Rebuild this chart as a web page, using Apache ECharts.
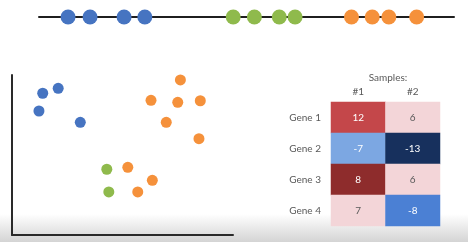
<!DOCTYPE html>
<html>
<head>
<meta charset="utf-8">
<script src="https://cdn.jsdelivr.net/npm/echarts@6/dist/echarts.min.js"></script>
<style>html,body{margin:0;padding:0;background:#fff}#c{width:468px;height:242px}</style>
</head>
<body>
<div id="c"></div>
<script>
// 1D line positions (0-100 scale)
var lineBlue = [7.0, 12.3, 20.5, 25.5];
var lineGreen = [46.8, 51.9, 57.9, 61.7];
var lineOrange = [75.3, 80.3, 84.3, 91.0];

// 2D scatter (x, y on 0-100 scale)
var scatBlue = [[13.9, 88.6], [20.9, 91.7], [12.2, 77.5], [30.9, 70.4]];
var scatOrange = [[76.2, 96.9], [62.9, 84.2], [75.0, 82.9], [85.2, 83.9], [69.8, 70.4], [84.6, 60.2], [52.4, 42.3], [63.5, 34.2], [56.9, 26.9]];
var scatGreen = [[42.9, 41.1], [43.8, 26.9]];

// Heatmap
var samples = ['#1', '#2'];
var genes = ['Gene 1', 'Gene 2', 'Gene 3', 'Gene 4'];
var sample1 = [12, -7, 8, 7];
var sample2 = [6, -13, 6, -8];

var BLUE = '#4674c1', GREEN = '#8fba4c', ORANGE = '#f5913b';
var FONT = 'Lato';

function oneD(arr) { return arr.map(function (v) { return [v, 0]; }); }

var heatData = [];
genes.forEach(function (g, i) {
  [sample1, sample2].forEach(function (arr, j) {
    var v = arr[i];
    var light = (v === 6 || v === 7);
    heatData.push({ value: [j, i, v], label: { color: light ? '#595959' : '#ffffff' } });
  });
});

var chart = echarts.init(document.getElementById('c'), null, { renderer: 'canvas' });
chart.setOption({
  backgroundColor: '#ffffff',
  animation: false,
  textStyle: { fontFamily: FONT },
  graphic: [{
    type: 'rect', z: -10, silent: true,
    shape: { x: 0, y: 214, width: 468, height: 28 },
    style: {
      fill: { type: 'linear', x: 0, y: 0, x2: 0, y2: 1, colorStops: [
        { offset: 0, color: 'rgba(255,255,255,1)' },
        { offset: 1, color: '#d4d4d4' }] }
    }
  }],
  title: {
    text: 'Samples:', left: 383, top: 68, textAlign: 'center',
    textStyle: { fontFamily: FONT, fontSize: 10, fontWeight: 'normal', color: '#595959' }
  },
  visualMap: {
    show: false, type: 'piecewise', seriesIndex: 6, dimension: 2,
    pieces: [
      { value: 12, color: '#c4474a' },
      { value: 8, color: '#8e2c2c' },
      { gte: 6, lte: 7, color: '#f3d5d8' },
      { value: -7, color: '#7ca7e2' },
      { value: -8, color: '#4b80d4' },
      { value: -13, color: '#17305d' }
    ]
  },
  grid: [
    { left: 39, width: 415, top: 7, height: 20 },
    { left: 12, width: 221, top: 75, height: 160 },
    { left: 331, width: 109, top: 102, height: 124 }
  ],
  xAxis: [
    { gridIndex: 0, type: 'value', min: 0, max: 100, axisLine: { show: true, onZero: true, lineStyle: { color: '#1f1f1f', width: 2 } }, axisTick: { show: false }, axisLabel: { show: false }, splitLine: { show: false } },
    { gridIndex: 1, type: 'value', min: 0, max: 100, axisLine: { show: true, lineStyle: { color: '#2a2a2a', width: 2 } }, axisTick: { show: false }, axisLabel: { show: false }, splitLine: { show: false } },
    { gridIndex: 2, type: 'category', data: samples, position: 'top', axisLine: { show: false }, axisTick: { show: false },
      axisLabel: { margin: 5, fontSize: 10, fontFamily: FONT, color: '#595959' }, splitLine: { show: false } }
  ],
  yAxis: [
    { gridIndex: 0, type: 'value', min: -1, max: 1, show: false },
    { gridIndex: 1, type: 'value', min: 0, max: 100, axisLine: { show: true, lineStyle: { color: '#2a2a2a', width: 2 } }, axisTick: { show: false }, axisLabel: { show: false }, splitLine: { show: false } },
    { gridIndex: 2, type: 'category', data: genes, inverse: true, axisLine: { show: false }, axisTick: { show: false },
      axisLabel: { margin: 10, fontSize: 10, fontFamily: FONT, color: '#595959' }, splitLine: { show: false } }
  ],
  series: [
    { type: 'scatter', xAxisIndex: 0, yAxisIndex: 0, data: oneD(lineBlue), symbolSize: 15, itemStyle: { color: BLUE, opacity: 1 } },
    { type: 'scatter', xAxisIndex: 0, yAxisIndex: 0, data: oneD(lineGreen), symbolSize: 15, itemStyle: { color: GREEN, opacity: 1 } },
    { type: 'scatter', xAxisIndex: 0, yAxisIndex: 0, data: oneD(lineOrange), symbolSize: 15, itemStyle: { color: ORANGE, opacity: 1 } },
    { type: 'scatter', xAxisIndex: 1, yAxisIndex: 1, data: scatBlue, symbolSize: 11, itemStyle: { color: BLUE, opacity: 1 } },
    { type: 'scatter', xAxisIndex: 1, yAxisIndex: 1, data: scatOrange, symbolSize: 11, itemStyle: { color: ORANGE, opacity: 1 } },
    { type: 'scatter', xAxisIndex: 1, yAxisIndex: 1, data: scatGreen, symbolSize: 11, itemStyle: { color: GREEN, opacity: 1 } },
    { type: 'heatmap', xAxisIndex: 2, yAxisIndex: 2, data: heatData,
      label: { show: true, fontSize: 10, fontFamily: FONT },
      itemStyle: { borderWidth: 0 } }
  ]
});
</script>
</body>
</html>
